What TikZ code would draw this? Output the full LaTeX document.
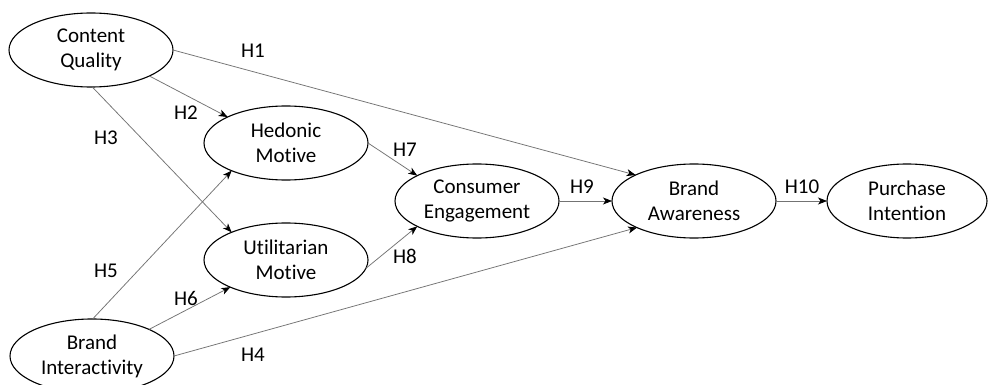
\documentclass[tikz,border=0pt]{standalone}
\usepackage{fontspec}
\setmainfont[Ligatures={NoCommon}]{Carlito}
\usetikzlibrary{shapes.geometric,arrows.meta}
\begin{document}
\begin{tikzpicture}[x=1pt,y=1pt,
  construct/.style={ellipse,draw=black,line width=1.1pt,minimum width=164pt,minimum height=74pt,
    inner sep=0pt,outer sep=0pt,align=center,font=\fontsize{21}{25}\selectfont},
  path/.style={draw=black!55,line width=0.75pt,-{Stealth[length=9pt,width=7pt,inset=2.5pt,color=black]}},
  hyp/.style={font=\fontsize{21}{25}\selectfont,inner sep=0pt}]
\useasboundingbox (0,0) rectangle (989,-385);
\fill[white] (0,0) rectangle (989,-385);
\node[construct] (cq) at (91,-50) {Content\\Quality};
\node[construct] (hm) at (286,-143) {Hedonic\\Motive};
\node[construct] (um) at (286,-260) {Utilitarian\\Motive};
\node[construct] (bi) at (92,-356) {Brand\\Interactivity};
\node[construct] (ce) at (477,-201) {Consumer\\Engagement};
\node[construct] (ba) at (694,-201) {Brand\\Awareness};
\node[construct,minimum width=160pt] (pi) at (907,-201) {Purchase\\Intention};
% paths
\draw[path] (cq.east) -- (ba.156);
\draw[path] (cq.-24) -- (hm.156);
\draw[path] (cq.-88) -- (um.153);
\draw[path] (bi.89) -- (hm.207);
\draw[path] (bi.25) -- (um.206);
\draw[path] (bi.east) -- (ba.205);
\draw[path] (hm.east) -- (ce.157);
\draw[path] (um.-6) -- (ce.203);
\draw[path] (ce.east) -- (ba.west);
\draw[path] (ba.east) -- (pi.west);
% labels
\node[hyp] (h1) at (253,-51) {H1};
\node[hyp] (h2) at (186,-113) {H2};
\node[hyp] (h3) at (106,-138) {H3};
\node[hyp] (h5) at (106,-271) {H5};
\node[hyp] (h6) at (186,-298) {H6};
\node[hyp] (h4) at (253,-355) {H4};
\node[hyp] (h7) at (405,-150) {H7};
\node[hyp] (h8) at (405,-256) {H8};
\node[hyp] (h9) at (582,-187) {H9};
\node[hyp] (h10) at (802,-187) {H10};
\end{tikzpicture}
\end{document}
